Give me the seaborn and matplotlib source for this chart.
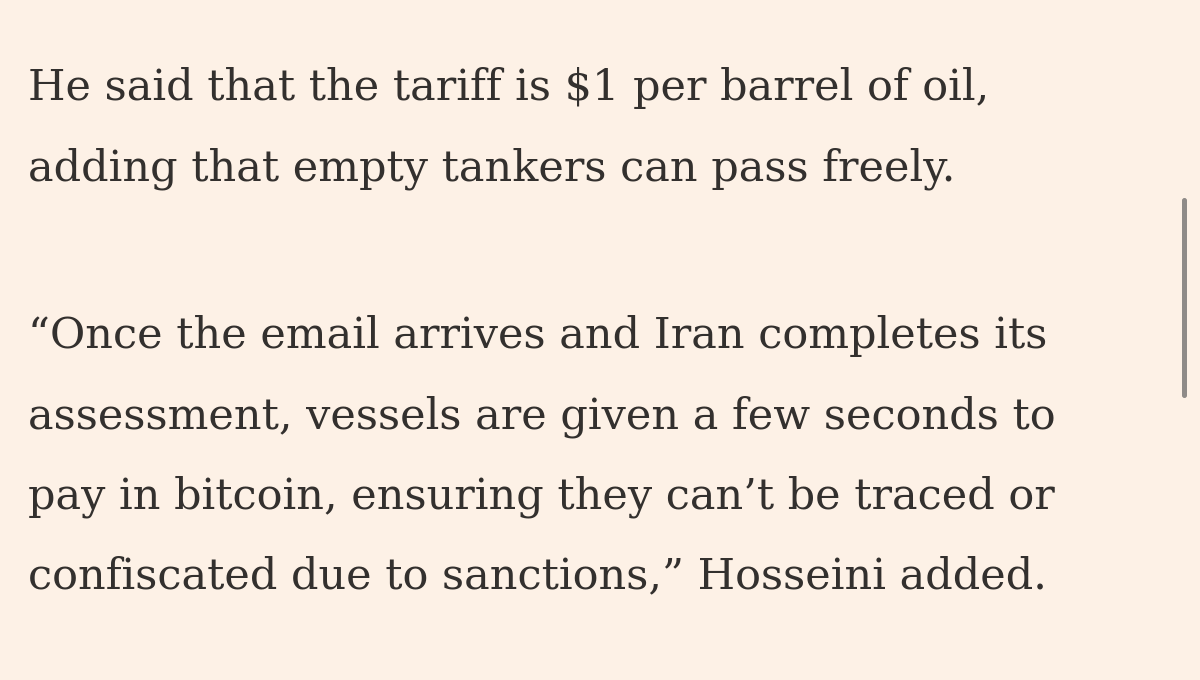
import matplotlib
matplotlib.use("Agg")
import matplotlib.pyplot as plt
import seaborn as sns
from matplotlib.patches import FancyBboxPatch

sns.set_theme(style="white")
plt.rcParams['font.family'] = ['DejaVu Serif', 'Liberation Serif']

lines = [
    "He said that the tariff is $1 per barrel of oil,",
    "adding that empty tankers can pass freely.",
    "\u201cOnce the email arrives and Iran completes its",
    "assessment, vessels are given a few seconds to",
    "pay in bitcoin, ensuring they can\u2019t be traced or",
    "confiscated due to sanctions,\u201d Hosseini added.",
]
baselines = [100, 180, 348, 428, 508, 588]

bg = "#FDF1E6"
fig = plt.figure(figsize=(12, 6.8), dpi=100, facecolor=bg)
ax = fig.add_axes([0, 0, 1, 1])
ax.set_facecolor(bg)
ax.set_xlim(0, 1200)
ax.set_ylim(680, 0)
ax.axis("off")
for t, y in zip(lines, baselines):
    ax.text(28, y, t, fontsize=31, color="#33302E", va="baseline", ha="left")
ax.add_patch(FancyBboxPatch((1182, 198), 5, 200, boxstyle="round,pad=0,rounding_size=2.5",
                            facecolor="#8F8B88", edgecolor="none"))
fig.savefig("out.png", facecolor=bg)
